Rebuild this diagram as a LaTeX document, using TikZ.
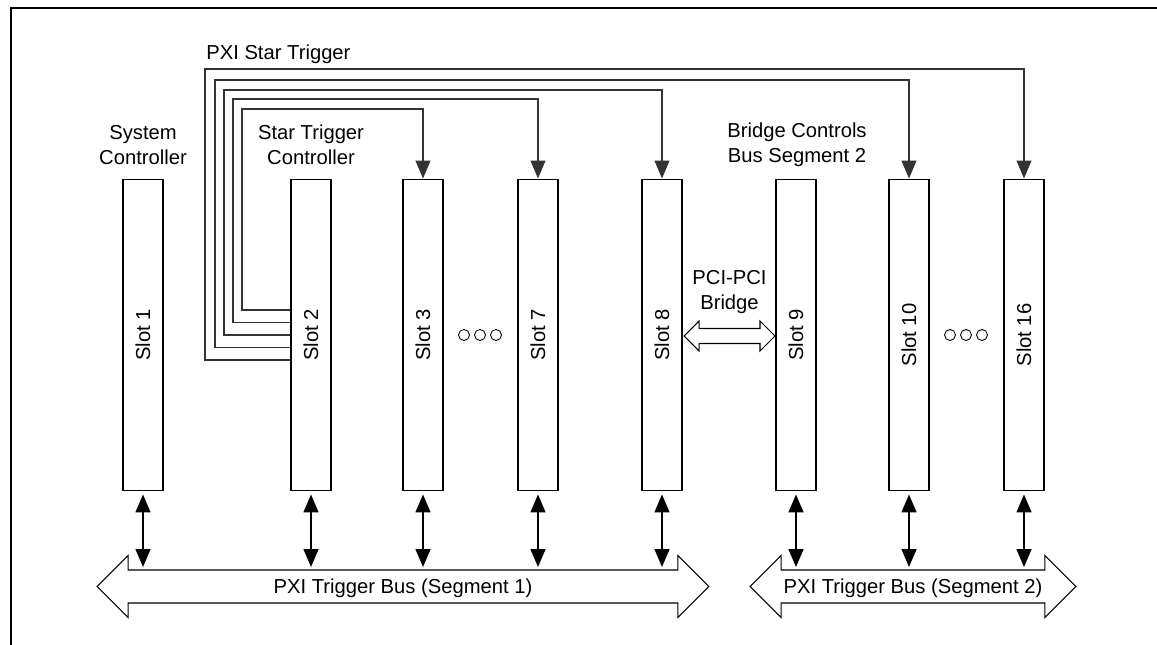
\documentclass[tikz,border=0pt]{standalone}
\usepackage{fontspec}
\setmainfont{Liberation Sans}
\usetikzlibrary{shapes}
\usetikzlibrary{calc}
\usetikzlibrary{arrows.meta}
\tikzset{
    slotbox/.style = {rectangle, draw=black, line width=0.6pt, minimum width=0.8cm, minimum height=6.24cm, inner sep=0pt},
    lbl/.style = {align=center, inner sep=0pt},
    busarrow/.style = {double arrow, draw=black, line width=0.6pt, double arrow head extend=0.29cm, inner sep=0pt, text height=0.47cm, text depth=0.17cm},
    bridgearrow/.style = {double arrow, draw=black, line width=0.6pt, double arrow head extend=0.15cm, minimum height=1.82cm, inner sep=0pt, text height=0.28cm, text depth=0pt},
    dotc/.style = {circle, draw=black, line width=0.5pt, minimum size=0.22cm, inner sep=0pt},
    edgeb/.style = {{Triangle[length=0.36cm,width=0.3cm]}-{Triangle[length=0.36cm,width=0.3cm]}, line width=0.9pt, shorten <=0.06cm, shorten >=0.06cm},
    edget/.style = {-{Triangle[length=0.36cm,width=0.3cm]}, line width=0.6pt, draw=black!80},
    every picture/.style={font issue=\fontsize{11.5}{14}},
    font issue/.style={execute at begin picture={#1\selectfont}
  }
}

\begin{document}
\begin{tikzpicture}[x=0.02cm,y=-0.02cm]
\useasboundingbox (0,0) rectangle (1157,645);
\draw[line width=1.5pt] (1157,8) -| (11,645);
%
\node[slotbox] at (143,335) (s1) {\rotatebox{90}{Slot 1}};
\node[slotbox] at (311,335) (s2) {\rotatebox{90}{Slot 2}};
\node[slotbox] at (423,335) (s3) {\rotatebox{90}{Slot 3}};
\node[slotbox] at (538,335) (s7) {\rotatebox{90}{Slot 7}};
\node[slotbox] at (662,335) (s8) {\rotatebox{90}{Slot 8}};
\node[slotbox] at (796,335) (s9) {\rotatebox{90}{Slot 9}};
\node[slotbox] at (909,335) (s10) {\rotatebox{90}{Slot 10}};
\node[slotbox] at (1024,335) (s16) {\rotatebox{90}{Slot 16}};
%
\foreach \cx/\i in {464/1, 480/2, 496/3, 950/4, 966/5, 982/6}
  \node[dotc] at (\cx,335) (dot\i) {};
%
\node[lbl] at (143,145) (sysctl) {System\\Controller};
\node[lbl] at (311,145) (starctl) {Star Trigger\\Controller};
\node[lbl] at (797,145) (bridgectl) {Bridge Controls\\Bus Segment 2};
\node[lbl, anchor=base west] at (206,60) (startrig) {PXI Star Trigger};
\node[lbl] at (729.5,292) (pcilbl) {PCI-PCI\\Bridge};
%
\node[bridgearrow] at (729.5,336) (pci) {};
\node[busarrow, minimum height=12.24cm] at (403,586.5) (bus1) {PXI Trigger Bus (Segment 1)};
\node[busarrow, minimum height=6.52cm] at (913,586.5) (bus2) {PXI Trigger Bus (Segment 2)};
\coordinate (bustop) at (0,570);
%
\foreach \dy/\xx/\hy/\t in {-25/242/109/s3, -12.5/233/99/s7, 0/224/90/s8, 12.5/215/80/s10, 25/205/69/s16}
  \draw[edget] ($(s2.west)+(0,\dy)$) -| (\xx,\hy) -| (\t.north);
%
\foreach \s in {s1,s2,s3,s7,s8,s9,s10,s16}
  \draw[edgeb] (\s.south) -- (\s.south |- bustop);

\end{tikzpicture}
\end{document}
